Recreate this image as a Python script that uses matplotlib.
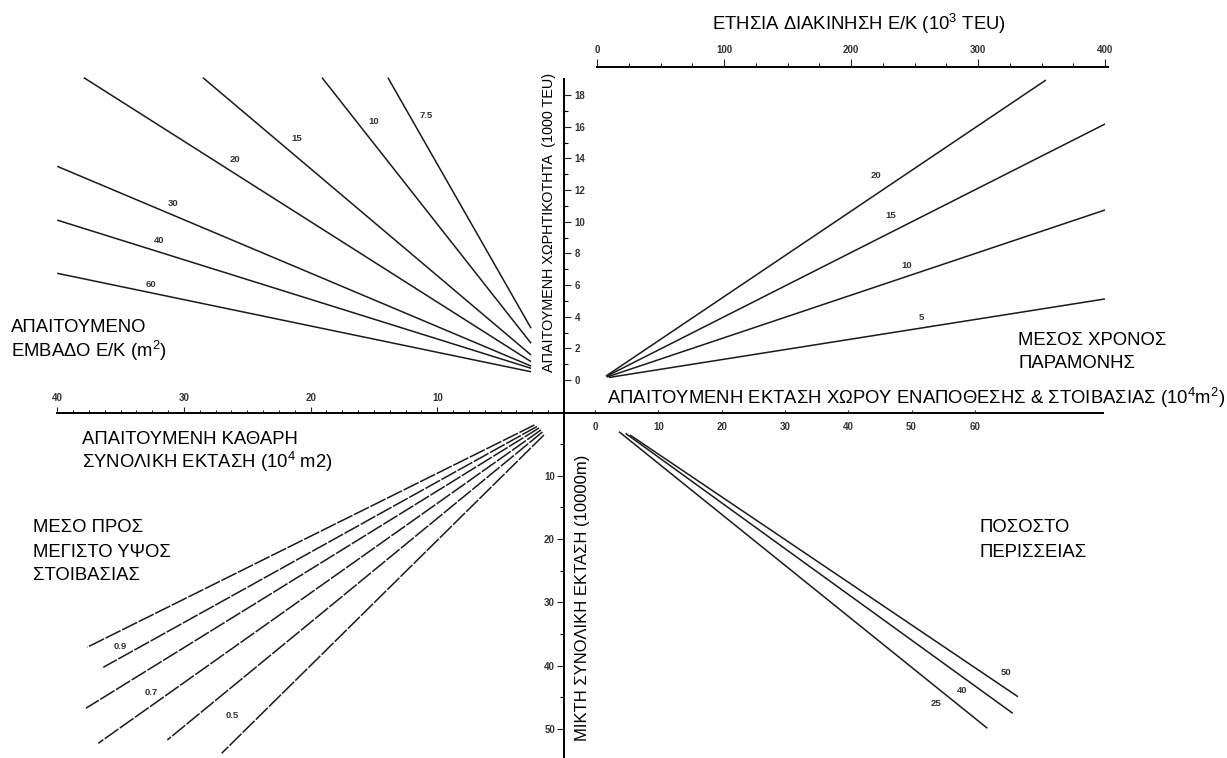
import matplotlib
matplotlib.use("Agg")
import matplotlib.pyplot as plt
from matplotlib.ticker import FixedLocator, NullFormatter

plt.rcParams['font.family'] = ['Liberation Sans', 'DejaVu Sans']
plt.rcParams['mathtext.fontset'] = 'custom'
plt.rcParams['mathtext.rm'] = 'Liberation Sans'

# ------------------------------------------------------------------ data
# Top-left quadrant: required container area per TEU (m2)
tl_labels = ['7.5', '10', '15', '20', '30', '40', '60']
tl_net_start = [2.6, 2.6, 2.6, 2.6, 2.6, 2.6, 2.6]
tl_cap_start = [3.27, 2.32, 1.58, 1.16, 0.88, 0.74, 0.52]
tl_net_end = [13.9, 19.1, 28.5, 37.9, 40.0, 40.0, 40.0]
tl_cap_end = [19.1, 19.1, 19.1, 19.1, 13.5, 10.1, 6.74]

# Top-right quadrant: mean dwell time (days)
tr_labels = ['5', '10', '15', '20']
tr_thr_start = [9.4, 7.9, 7.1, 7.1]
tr_cap_start = [0.16, 0.19, 0.22, 0.25]
tr_thr_end = [400, 400, 400, 353.5]
tr_cap_end = [5.12, 10.74, 16.17, 18.95]

# Bottom-left quadrant: mean to max stacking height ratio
bl_labels = ['', '0.9', '', '0.7', '', '0.5']
bl_net_start = [2.33, 2.13, 1.97, 1.82, 1.70, 1.58]
bl_gross_start = [1.97, 2.21, 2.45, 2.76, 3.08, 3.55]
bl_net_end = [37.64, 36.36, 37.73, 36.76, 31.31, 27.02]
bl_gross_end = [37.09, 40.25, 46.72, 52.26, 51.74, 53.84]

# Bottom-right quadrant: surplus percentage
br_labels = ['25', '40', '50']
br_sto_start = [3.79, 4.82, 5.53]
br_gross_start = [3.03, 3.29, 3.55]
br_sto_end = [61.99, 66.0, 66.82]
br_gross_end = [49.89, 47.52, 44.9]

# axis ticks
cap_major = [0, 2, 4, 6, 8, 10, 12, 14, 16, 18]
cap_minor = [1, 3, 5, 7, 9, 11, 13, 15, 17]
thr_major = [0, 100, 200, 300, 400]
thr_minor = [25, 50, 75, 125, 150, 175, 225, 250, 275, 325, 350, 375]
net_major = [10, 20, 30, 40]
net_minor = [1.25, 2.5, 3.75, 5, 6.25, 7.5, 8.75,
             11.25, 12.5, 13.75, 15, 16.25, 17.5, 18.75,
             21.25, 22.5, 23.75, 25, 26.25, 27.5, 28.75,
             31.25, 32.5, 33.75, 35, 36.25, 37.5, 38.75]
sto_major = [0, 10, 20, 30, 40, 50, 60]
gross_major = [10, 20, 30, 40, 50]
gross_minor = [5, 15, 25, 35, 45]

# ------------------------------------------------------------------ layout
W, H = 1227, 758
OX, OY = 564.0, 412.5          # pixel position of the axes cross
TOPY = 67.0                     # pixel row of the throughput axis
CAP0, CAPPX = 380.0, 15.83      # capacity: pixel row of 0, px per unit
THR0, THRPX = 597.0, 1.27       # throughput: pixel col of 0, px per unit
NETPX = 12.67                   # net area px per unit (0 at OX)
STO0, STOPX = 595.0, 6.33       # storage area
GROSSPX = 6.33                  # gross area px per unit (0 at OY)

fig = plt.figure(figsize=(W / 100, H / 100), dpi=100)
fig.patch.set_facecolor('white')


def rect(x0, x1, y0, y1):
    return [x0 / W, 1 - y1 / H, (x1 - x0) / W, (y1 - y0) / H]


ax_tl = fig.add_axes(rect(0, OX, TOPY, OY))
ax_tr = fig.add_axes(rect(OX, W, TOPY, OY))
ax_bl = fig.add_axes(rect(0, OX, OY, H))
ax_br = fig.add_axes(rect(OX, W, OY, H))

cap_lim = ((CAP0 - OY) / CAPPX, (CAP0 - TOPY) / CAPPX)
net_lim = (OX / NETPX, 0)
gross_lim = ((H - OY) / GROSSPX, 0)
ax_tl.set_xlim(*net_lim); ax_tl.set_ylim(*cap_lim)
ax_tr.set_xlim((OX - THR0) / THRPX, (W - THR0) / THRPX); ax_tr.set_ylim(*cap_lim)
ax_bl.set_xlim(*net_lim); ax_bl.set_ylim(*gross_lim)
ax_br.set_xlim((OX - STO0) / STOPX, (W - STO0) / STOPX); ax_br.set_ylim(*gross_lim)

for ax in (ax_tl, ax_tr, ax_bl, ax_br):
    ax.patch.set_visible(False)
    for s in ax.spines.values():
        s.set_visible(False)
        s.set_linewidth(1.4)
        s.set_color('black')
    ax.set_xticks([]); ax.set_yticks([])

tick_font = dict(labelsize=7, labelcolor='#333333', width=0.8, color='#222222')

# capacity axis (right spine of top-left axes)
sp = ax_tl.spines['right']; sp.set_visible(True); sp.set_bounds(cap_lim[0], 19.0)
ax_tl.yaxis.tick_right()
ax_tl.yaxis.set_major_locator(FixedLocator(cap_major))
ax_tl.yaxis.set_minor_locator(FixedLocator(cap_minor))
ax_tl.tick_params(axis='y', which='major', direction='out', length=5, pad=2.5, **tick_font)
ax_tl.tick_params(axis='y', which='minor', direction='out', length=3, width=0.8)
ax_tl.set_yticklabels([str(v) for v in cap_major], fontweight='bold')

# throughput axis (top spine of top-right axes)
sp = ax_tr.spines['top']; sp.set_visible(True); sp.set_bounds(0, 402)
ax_tr.xaxis.tick_top()
ax_tr.xaxis.set_major_locator(FixedLocator(thr_major))
ax_tr.xaxis.set_minor_locator(FixedLocator(thr_minor))
ax_tr.xaxis.set_minor_formatter(NullFormatter())
ax_tr.tick_params(axis='x', which='major', direction='out', length=6, pad=2.5, **tick_font)
ax_tr.tick_params(axis='x', which='minor', direction='out', length=3, width=0.7)
ax_tr.set_xticklabels([str(v) for v in thr_major], fontweight='bold')

# net area axis (top spine of bottom-left axes)
sp = ax_bl.spines['top']; sp.set_visible(True); sp.set_bounds(0, 40)
ax_bl.xaxis.tick_top()
ax_bl.xaxis.set_major_locator(FixedLocator(net_major))
ax_bl.xaxis.set_minor_locator(FixedLocator(net_minor))
ax_bl.xaxis.set_minor_formatter(NullFormatter())
ax_bl.tick_params(axis='x', which='major', direction='out', length=4, pad=2.5, **tick_font)
ax_bl.tick_params(axis='x', which='minor', direction='out', length=2.5, width=0.7)
ax_bl.set_xticklabels([str(v) for v in net_major], fontweight='bold')

# storage area axis (top spine of bottom-right axes, labels below the line)
sp = ax_br.spines['top']; sp.set_visible(True); sp.set_bounds((OX - STO0) / STOPX, 80.3)
ax_br.xaxis.tick_top()
ax_br.xaxis.set_major_locator(FixedLocator(sto_major))
ax_br.tick_params(axis='x', which='major', direction='out', length=2, pad=-8.5, **tick_font)
ax_br.set_xticklabels([str(v) for v in sto_major], fontweight='bold')
for t in ax_br.xaxis.get_major_ticks():
    t.label2.set_verticalalignment('top')

# gross area axis (left spine of bottom-right axes)
sp = ax_br.spines['left']; sp.set_visible(True)
ax_br.yaxis.set_major_locator(FixedLocator(gross_major))
ax_br.yaxis.set_minor_locator(FixedLocator(gross_minor))
ax_br.tick_params(axis='y', which='major', direction='out', length=5, pad=1.5, **tick_font)
ax_br.tick_params(axis='y', which='minor', direction='out', length=3, width=0.8)
ax_br.set_yticklabels([str(v) for v in gross_major], fontweight='bold')

LW = 1.1
LC = '#1a1a1a'
for xs, ys, xe, ye in zip(tl_net_start, tl_cap_start, tl_net_end, tl_cap_end):
    ax_tl.plot([xs, xe], [ys, ye], color=LC, lw=LW, solid_capstyle='butt')
for xs, ys, xe, ye in zip(tr_thr_start, tr_cap_start, tr_thr_end, tr_cap_end):
    ax_tr.plot([xs, xe], [ys, ye], color=LC, lw=LW, solid_capstyle='butt')
for xs, ys, xe, ye in zip(bl_net_start, bl_gross_start, bl_net_end, bl_gross_end):
    ax_bl.plot([xs, xe], [ys, ye], color=LC, lw=LW, linestyle=(0, (11, 1.1)))
for xs, ys, xe, ye in zip(br_sto_start, br_gross_start, br_sto_end, br_gross_end):
    ax_br.plot([xs, xe], [ys, ye], color=LC, lw=LW, solid_capstyle='butt')

# line labels (positions in each quadrant's data units)
lab_kw = dict(fontsize=6.8, color='#333333', ha='center', va='center', fontweight='bold')
tl_lab_pos = [(10.89, 16.74), (15.03, 16.36), (21.07, 15.27), (26.01, 13.94),
              (30.84, 11.16), (31.97, 8.84), (32.57, 6.06)]
for s, (x, y) in zip(tl_labels, tl_lab_pos):
    ax_tl.text(x, y, s, **lab_kw)
tr_lab_pos = [(255.1, 3.92), (243.6, 7.26), (231.5, 10.42), (219.5, 12.89)]
for s, (x, y) in zip(tr_labels, tr_lab_pos):
    ax_tr.text(x, y, s, **lab_kw)
bl_lab_pos = [None, (34.99, 37.0), None, (32.62, 44.3), None, (26.15, 47.9)]
for s, p in zip(bl_labels, bl_lab_pos):
    if s:
        ax_bl.text(p[0], p[1], s, **lab_kw)
br_lab_pos = [(53.8, 45.94), (58.0, 43.84), (64.9, 41.1)]
for s, (x, y) in zip(br_labels, br_lab_pos):
    ax_br.text(x, y, s, **lab_kw)

# ------------------------------------------------------------------ titles
FS = 13.3


def ftext(px, py, s, **kw):
    kw.setdefault('fontsize', FS)
    kw.setdefault('va', 'baseline')
    kw.setdefault('ha', 'left')
    fig.text(px / W, 1 - py / H, s, color='black', **kw)


ftext(859, 30, r'ΕΤΗΣΙΑ ΔΙΑΚΙΝΗΣΗ Ε/Κ (10$\mathregular{^3}$ TEU)', ha='center')
ftext(11, 331.6, 'ΑΠΑΙΤΟΥΜΕΝΟ')
ftext(11, 356.6, r'ΕΜΒΑΔΟ Ε/Κ (m$\mathregular{^2}$)')
ftext(1018, 345, 'ΜΕΣΟΣ ΧΡΟΝΟΣ')
ftext(1018, 367.6, 'ΠΑΡΑΜΟΝΗΣ')
ftext(607, 404, r'ΑΠΑΙΤΟΥΜΕΝΗ ΕΚΤΑΣΗ ΧΩΡΟΥ ΕΝΑΠΟΘΕΣΗΣ & ΣΤΟΙΒΑΣΙΑΣ (10$\mathregular{^4}$m$\mathregular{^2}$)')
ftext(82, 444, 'ΑΠΑΙΤΟΥΜΕΝΗ ΚΑΘΑΡΗ')
ftext(82, 468, r'ΣΥΝΟΛΙΚΗ ΕΚΤΑΣΗ (10$\mathregular{^4}$ m2)')
ftext(32.6, 531.6, 'ΜΕΣΟ ΠΡΟΣ')
ftext(32.6, 556.6, 'ΜΕΓΙΣΤΟ ΥΨΟΣ')
ftext(32.6, 580, 'ΣΤΟΙΒΑΣΙΑΣ')
ftext(979.5, 531.6, 'ΠΟΣΟΣΤΟ')
ftext(979.5, 556.6, 'ΠΕΡΙΣΣΕΙΑΣ')
ftext(549, 222.5, 'ΑΠΑΙΤΟΥΜΕΝΗ ΧΩΡΗΤΙΚΟΤΗΤΑ  (1000 TEU)', rotation=90,
      ha='center', va='center', fontsize=10.4)
ftext(583, 597.5, 'ΜΙΚΤΗ ΣΥΝΟΛΙΚΗ ΕΚΤΑΣΗ (10000m)', rotation=90,
      ha='center', va='center', fontsize=12)

fig.savefig('out.png', dpi=100, facecolor='white')
